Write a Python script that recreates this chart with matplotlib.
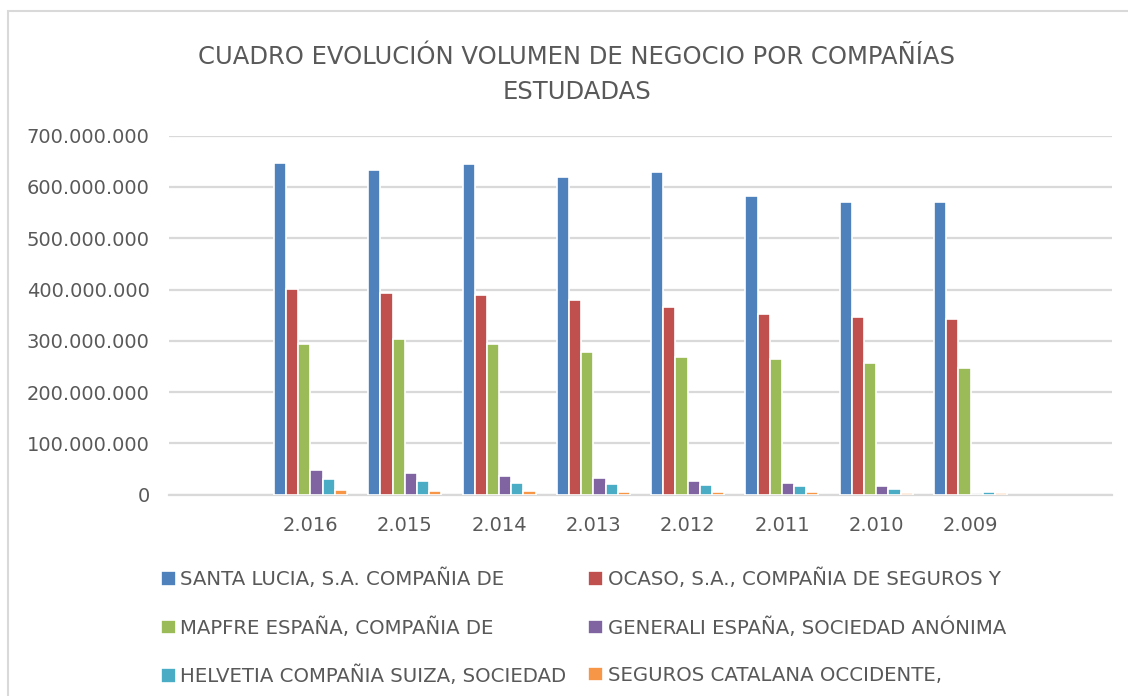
import numpy as np
import matplotlib.pyplot as plt
from matplotlib.patches import Rectangle

# categories (first and last are empty in the source sheet)
years = ['', '2.016', '2.015', '2.014', '2.013', '2.012', '2.011', '2.010', '2.009', '']

companies = ['SANTA LUCIA, S.A. COMPAÑIA DE',
             'OCASO, S.A., COMPAÑIA DE SEGUROS Y',
             'MAPFRE ESPAÑA, COMPAÑIA DE',
             'GENERALI ESPAÑA, SOCIEDAD ANÓNIMA',
             'HELVETIA COMPAÑIA SUIZA, SOCIEDAD',
             'SEGUROS CATALANA OCCIDENTE,']

# values per year 2016 -> 2009 (euros)
santa_lucia = [647e6, 633e6, 644e6, 620e6, 629e6, 583e6, 570e6, 571e6]
ocaso = [401e6, 394e6, 389e6, 380e6, 366e6, 352e6, 347e6, 343e6]
mapfre = [294e6, 304e6, 293e6, 279e6, 269e6, 265e6, 256e6, 248e6]
generali = [48e6, 42e6, 36e6, 32e6, 26e6, 22e6, 17e6, 0]
helvetia = [30e6, 26e6, 22e6, 21e6, 18e6, 16e6, 11e6, 6e6]
catalana = [9e6, 7.5e6, 7e6, 6e6, 5e6, 5e6, 4e6, 3e6]

series = [santa_lucia, ocaso, mapfre, generali, helvetia, catalana]
colors = ['#4f81bd', '#c0504d', '#9bbb59', '#8064a2', '#4bacc6', '#f79646']

fig = plt.figure(figsize=(11.28, 6.96), dpi=100)
ax = fig.add_axes([169 / 1128, 1 - 494.7 / 696, (1112 - 169) / 1128, (494.7 - 135.7) / 696])

x = np.arange(1, 9)
step = 0.129
for i, (vals, c) in enumerate(zip(series, colors)):
    ax.bar(x + (i - 2.5) * step, vals, width=step, color=c,
           edgecolor='white', linewidth=1.2, label=companies[i], zorder=3)

ax.set_xlim(-0.5, 9.5)
ax.set_ylim(0, 700e6)
ax.set_xticks(np.arange(10))
ax.set_xticklabels(years)
yt = np.arange(0, 700e6 + 1, 100e6)
ax.set_yticks(yt)
ax.set_yticklabels(['{:,.0f}'.format(v).replace(',', '.') for v in yt])
ax.tick_params(length=0, labelsize=14, colors='#595959', pad=14)
ax.tick_params(axis='x', pad=15)
ax.grid(axis='y', color='#d9d9d9', linewidth=1.6, zorder=0)
for s in ['top', 'right', 'left']:
    ax.spines[s].set_visible(False)
ax.spines['bottom'].set_color('#d9d9d9')
ax.spines['bottom'].set_linewidth(1.6)

fig.text(577 / 1128, 1 - 57 / 696, 'CUADRO EVOLUCIÓN VOLUMEN DE NEGOCIO POR COMPAÑÍAS',
         ha='center', va='center', fontsize=17.5, color='#595959')
fig.text(577 / 1128, 1 - 92 / 696, 'ESTUDADAS',
         ha='center', va='center', fontsize=17.5, color='#595959')

handles, labels = ax.get_legend_handles_labels()
# order row-wise in two columns
order = [0, 2, 4, 1, 3, 5]
leg = fig.legend([handles[k] for k in order], [labels[k] for k in order],
                 loc='upper left', bbox_to_anchor=(143 / 1128, 1 - 551 / 696),
                 ncol=2, frameon=False, handlelength=0.75, handleheight=0.75,
                 handletextpad=0.25, columnspacing=1.1, labelspacing=1.42,
                 prop={'size': 14.2})
for t in leg.get_texts():
    t.set_color('#595959')

fig.patches.append(Rectangle((8 / 1128, -0.1), 1.2, 1 - 11 / 696 + 0.1,
                             transform=fig.transFigure, fill=False,
                             edgecolor='#d9d9d9', linewidth=1.5))

fig.savefig('out.png', dpi=100)
